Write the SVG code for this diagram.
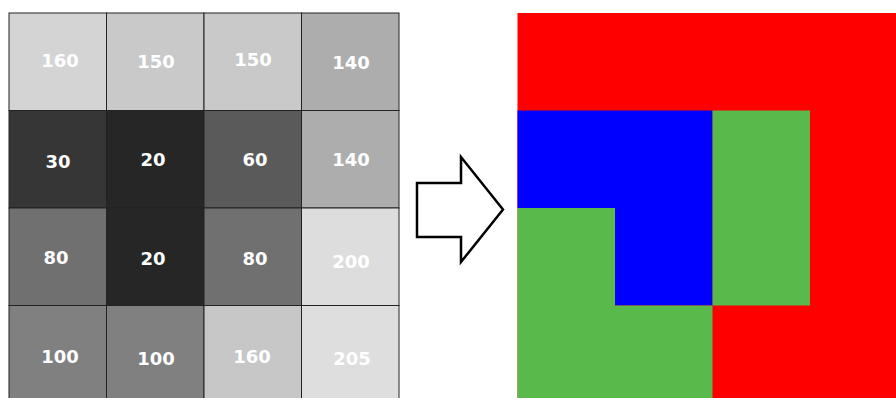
<svg xmlns="http://www.w3.org/2000/svg" width="896" height="398" viewBox="0 0 896 398">
<style>
.c{stroke:#222;stroke-width:1}
.t{font-family:"DejaVu Sans",Verdana,sans-serif;font-weight:bold;font-size:18px;fill:#fff;text-anchor:middle}
.r{fill:#ff0000}.b{fill:#0000ff}.g{fill:#59b94b}
</style>
<rect width="896" height="398" fill="#fff"/>
<g id="input-grid">
<g id="cell-0-0"><rect class="c" x="9" y="13" width="97.5" height="97.5" fill="#d4d4d4"/><text class="t" x="60" y="67">160</text></g>
<g id="cell-0-1"><rect class="c" x="106.5" y="13" width="97.5" height="97.5" fill="#c9c9c9"/><text class="t" x="156" y="68">150</text></g>
<g id="cell-0-2"><rect class="c" x="204" y="13" width="97.5" height="97.5" fill="#c9c9c9"/><text class="t" x="253" y="66">150</text></g>
<g id="cell-0-3"><rect class="c" x="301.5" y="13" width="97.5" height="97.5" fill="#adadad"/><text class="t" x="351" y="69">140</text></g>
<g id="cell-1-0"><rect class="c" x="9" y="110.5" width="97.5" height="97.5" fill="#363636"/><text class="t" x="58" y="167.5">30</text></g>
<g id="cell-1-1"><rect class="c" x="106.5" y="110.5" width="97.5" height="97.5" fill="#262626"/><text class="t" x="153" y="165.5">20</text></g>
<g id="cell-1-2"><rect class="c" x="204" y="110.5" width="97.5" height="97.5" fill="#5a5a5a"/><text class="t" x="255" y="165.5">60</text></g>
<g id="cell-1-3"><rect class="c" x="301.5" y="110.5" width="97.5" height="97.5" fill="#adadad"/><text class="t" x="351" y="165.5">140</text></g>
<g id="cell-2-0"><rect class="c" x="9" y="208" width="97.5" height="97.5" fill="#707070"/><text class="t" x="56" y="264">80</text></g>
<g id="cell-2-1"><rect class="c" x="106.5" y="208" width="97.5" height="97.5" fill="#262626"/><text class="t" x="153" y="264.5">20</text></g>
<g id="cell-2-2"><rect class="c" x="204" y="208" width="97.5" height="97.5" fill="#707070"/><text class="t" x="255" y="264.5">80</text></g>
<g id="cell-2-3"><rect class="c" x="301.5" y="208" width="97.5" height="97.5" fill="#dddddd"/><text class="t" x="351" y="268">200</text></g>
<g id="cell-3-0"><rect class="c" x="9" y="305.5" width="97.5" height="97.5" fill="#808080"/><text class="t" x="60" y="362.5">100</text></g>
<g id="cell-3-1"><rect class="c" x="106.5" y="305.5" width="97.5" height="97.5" fill="#808080"/><text class="t" x="156" y="365">100</text></g>
<g id="cell-3-2"><rect class="c" x="204" y="305.5" width="97.5" height="97.5" fill="#c7c7c7"/><text class="t" x="252" y="362.5">160</text></g>
<g id="cell-3-3"><rect class="c" x="301.5" y="305.5" width="97.5" height="97.5" fill="#dedede"/><text class="t" x="352" y="365">205</text></g>
</g>
<g id="connectors">
<polygon id="arrow" points="417,183 461,183 461,157 503,209.5 461,262 461,237 417,237" fill="#fff" stroke="#000" stroke-width="2.5" stroke-linejoin="miter"/>
</g>
<g id="output-grid">
<g id="region-red"><rect class="r" x="517.5" y="13" width="390" height="390"/></g>
<g id="region-blue"><path class="b" d="M517.5 110.5H712.5V305.5H615V208H517.5Z"/></g>
<g id="region-green-mid"><rect class="g" x="712.5" y="110.5" width="97.5" height="195"/></g>
<g id="region-green-bottom"><path class="g" d="M517.5 208H615V305.5H712.5V403H517.5Z"/></g>
</g>
</svg>
